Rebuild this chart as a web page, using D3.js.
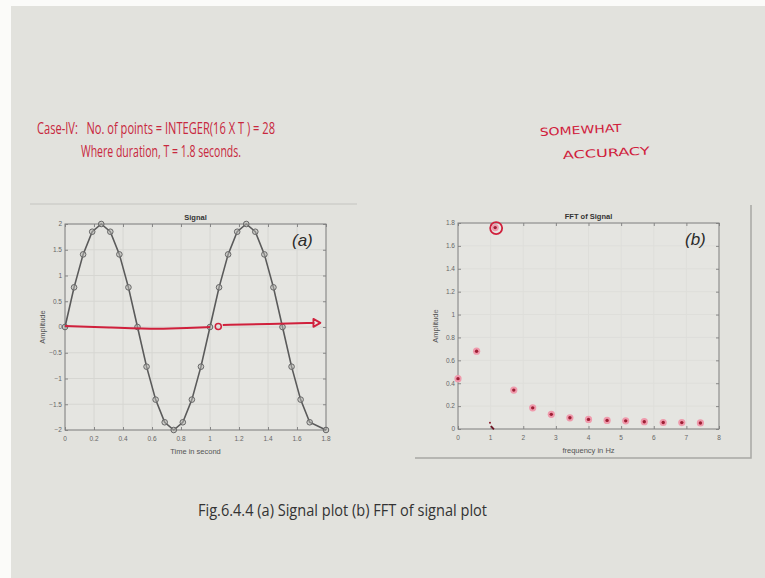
<!DOCTYPE html>
<html>
<head>
<meta charset="utf-8">
<script src="https://cdn.jsdelivr.net/npm/d3@7"></script>
<style>
  html, body { margin: 0; padding: 0; background: #fbfbf9; }
  svg { display: block; }
  .tick-lbl { font-family: "Liberation Sans", Arial, sans-serif; font-size: 6.5px; fill: #666; }
  .ax-lbl   { font-family: "Liberation Sans", Arial, sans-serif; font-size: 7.5px; fill: #555; }
  .ax-title { font-family: "Liberation Sans", Arial, sans-serif; font-size: 7.5px; font-weight: bold; fill: #333; }
  .slide    { font-family: "Liberation Sans Narrow", "Open Sans", sans-serif; white-space: pre; }
</style>
</head>
<body>
<svg id="chart" width="765" height="578"></svg>
<script>
/* ── Data ───────────────────────────────────────────────────────────────── */
// (a) sampled signal
const sigT = [0, 0.0625, 0.125, 0.1875, 0.25, 0.3125, 0.375, 0.4375, 0.5, 0.5625, 0.625, 0.6875, 0.75,
              0.8125, 0.875, 0.9375, 1.0, 1.0625, 1.125, 1.1875, 1.25, 1.3125, 1.375, 1.4375, 1.5,
              1.5625, 1.625, 1.6875, 1.8];
const sigA = [0, 0.77, 1.41, 1.85, 2, 1.85, 1.41, 0.77, 0, -0.77, -1.41, -1.85, -2,
              -1.85, -1.41, -0.77, 0, 0.77, 1.41, 1.85, 2, 1.85, 1.41, 0.77, 0,
              -0.77, -1.41, -1.85, -2];
const sigXTicks = [0, 0.2, 0.4, 0.6, 0.8, 1, 1.2, 1.4, 1.6, 1.8];
const sigYTicks = [-2, -1.5, -1, -0.5, 0, 0.5, 1, 1.5, 2];

// (b) FFT magnitude
const fftF = [0, 0.57, 1.14, 1.71, 2.29, 2.86, 3.43, 4.0, 4.57, 5.14, 5.71, 6.29, 6.86, 7.43];
const fftA = [0.44, 0.68, 1.76, 0.34, 0.185, 0.128, 0.098, 0.084, 0.075, 0.071, 0.064, 0.057, 0.056, 0.053];
const fftXTicks = [0, 1, 2, 3, 4, 5, 6, 7, 8];
const fftYTicks = [0, 0.2, 0.4, 0.6, 0.8, 1, 1.2, 1.4, 1.6, 1.8];

// hand-drawn annotations, in data units
const penLineA1 = [[0, 0.02], [0.3, -0.01], [0.63, -0.045], [0.85, -0.02], [1.0, 0.0]];
const penCircA  = [1.057, 0.01];
const penLineA2 = [[1.088, 0.04], [1.4, 0.06], [1.72, 0.08]];
const penCircB  = [1.17, 1.756];
const penTickB  = [[1.01, 0.026], [1.1, -0.003]];
const penDotB   = [0.98, 0.055];

/* ── Slide ──────────────────────────────────────────────────────────────── */
const svg = d3.select('#chart');
const RED = '#c8283e', PEN = '#d0203c';

svg.append('rect').attr('x', 11).attr('y', 6).attr('width', 754).attr('height', 572).attr('fill', '#e2e2dd');

const hdr = svg.append('g').attr('class', 'slide').attr('fill', RED).attr('font-size', 17);
hdr.append('text').attr('class', 'slide').attr('x', 37).attr('y', 134).attr('textLength', 238).attr('lengthAdjust', 'spacingAndGlyphs')
  .text('Case-IV:   No. of points = INTEGER(16 X T ) = 28');
hdr.append('text').attr('class', 'slide').attr('x', 81).attr('y', 157).attr('textLength', 160).attr('lengthAdjust', 'spacingAndGlyphs')
  .text('Where duration, T = 1.8 seconds.');

const hand = svg.append('g').attr('fill', PEN).attr('font-family', '"DejaVu Sans", sans-serif').attr('font-size', 11);
hand.append('text').attr('x', 540).attr('y', 136).attr('transform', 'rotate(-3 540 136)')
  .attr('textLength', 82).attr('lengthAdjust', 'spacingAndGlyphs').text('SOMEWHAT');
hand.append('text').attr('x', 563).attr('y', 159).attr('transform', 'rotate(-3 563 159)')
  .attr('textLength', 87).attr('lengthAdjust', 'spacingAndGlyphs').text('ACCURACY');

svg.append('text').attr('class', 'slide').attr('x', 198).attr('y', 516).attr('font-size', 17).attr('fill', '#333')
  .attr('textLength', 289).attr('lengthAdjust', 'spacingAndGlyphs').text('Fig.6.4.4 (a) Signal plot (b) FFT of signal plot');

// figure frame lines
svg.append('line').attr('x1', 30).attr('x2', 357).attr('y1', 204).attr('y2', 204).attr('stroke', '#c4c4c0');
svg.append('path').attr('d', 'M415,458H751V205').attr('fill', 'none').attr('stroke', '#a8a8a4').attr('stroke-width', 1.5);

/* ── Axes helper (MATLAB-style box) ─────────────────────────────────────── */
function panel(box, xDom, yDom, xTicks, yTicks, opts) {
  const x = d3.scaleLinear().domain(xDom).range([box.l, box.r]);
  const y = d3.scaleLinear().domain(yDom).range([box.b, box.t]);
  const g = svg.append('g');
  g.append('rect').attr('x', box.l).attr('y', box.t).attr('width', box.r - box.l).attr('height', box.b - box.t).attr('fill', '#e5e5e1');
  if (opts.grid) {
    xTicks.forEach(t => g.append('line').attr('x1', x(t)).attr('x2', x(t)).attr('y1', box.t).attr('y2', box.b).attr('stroke', opts.grid));
    yTicks.forEach(t => g.append('line').attr('x1', box.l).attr('x2', box.r).attr('y1', y(t)).attr('y2', y(t)).attr('stroke', opts.grid));
  }
  const ax = (axis, tr) => g.append('g').attr('transform', tr).call(axis)
    .call(s => { s.select('.domain').remove(); s.selectAll('text').remove(); s.selectAll('line').attr('stroke', '#888'); });
  ax(d3.axisTop(x).tickValues(xTicks).tickSize(3), `translate(0,${box.b})`);
  ax(d3.axisBottom(x).tickValues(xTicks).tickSize(3), `translate(0,${box.t})`);
  ax(d3.axisRight(y).tickValues(yTicks).tickSize(3), `translate(${box.l},0)`);
  ax(d3.axisLeft(y).tickValues(yTicks).tickSize(3), `translate(${box.r},0)`);
  g.append('rect').attr('x', box.l).attr('y', box.t).attr('width', box.r - box.l).attr('height', box.b - box.t)
    .attr('fill', 'none').attr('stroke', '#808080').attr('stroke-width', 1);
  xTicks.forEach(t => g.append('text').attr('class', 'tick-lbl').attr('x', x(t)).attr('y', box.b + 11).attr('text-anchor', 'middle').text(d3.format('~g')(t)));
  yTicks.forEach(t => g.append('text').attr('class', 'tick-lbl').attr('x', box.l - 3).attr('y', y(t) + 2.3).attr('text-anchor', 'end').text(d3.format('~g')(t)));
  g.append('text').attr('class', 'ax-title').attr('x', (box.l + box.r) / 2).attr('y', box.t - 4).attr('text-anchor', 'middle').text(opts.title);
  g.append('text').attr('class', 'ax-lbl').attr('x', (box.l + box.r) / 2).attr('y', box.b + 24).attr('text-anchor', 'middle').text(opts.xLabel);
  g.append('text').attr('class', 'ax-lbl').attr('transform', `translate(${box.l - 20},${(box.t + box.b) / 2}) rotate(-90)`)
    .attr('text-anchor', 'middle').text('Amplitude');
  g.append('text').attr('x', box.r - 34).attr('y', box.t + 22).attr('font-family', '"Liberation Sans", Arial, sans-serif')
    .attr('font-size', 17).attr('font-style', 'italic').attr('fill', '#2a2a2a').text(opts.tag);
  return { x, y, g };
}

/* ── (a) Signal ─────────────────────────────────────────────────────────── */
const A = panel({ l: 65, r: 326, t: 224, b: 430 }, [0, 1.8], [-2, 2], sigXTicks, sigYTicks,
  { title: 'Signal', xLabel: 'Time in second', tag: '(a)', grid: '#d6d6d2' });
const sig = sigT.map((t, i) => [t, sigA[i]]);
A.g.append('path').datum(sig)
  .attr('d', d3.line().x(d => A.x(d[0])).y(d => A.y(d[1])))
  .attr('fill', 'none').attr('stroke', '#5a5a5a').attr('stroke-width', 1.6);
A.g.selectAll('circle.mk').data(sig).join('circle').attr('class', 'mk')
  .attr('cx', d => A.x(d[0])).attr('cy', d => A.y(d[1])).attr('r', 2.8)
  .attr('fill', '#b8b8b4').attr('fill-opacity', 0.5).attr('stroke', '#666').attr('stroke-width', 1);

const penA = d3.line().x(d => A.x(d[0])).y(d => A.y(d[1])).curve(d3.curveBasis);
A.g.append('path').datum(penLineA1).attr('d', penA).attr('fill', 'none').attr('stroke', PEN).attr('stroke-width', 2);
A.g.append('path').datum(penLineA2).attr('d', penA).attr('fill', 'none').attr('stroke', PEN).attr('stroke-width', 2);
A.g.append('circle').attr('cx', A.x(penCircA[0])).attr('cy', A.y(penCircA[1])).attr('r', 3)
  .attr('fill', 'none').attr('stroke', PEN).attr('stroke-width', 1.5);
{
  const ex = A.x(penLineA2[2][0]), ey = A.y(penLineA2[2][1]);
  A.g.append('path').attr('d', `M${ex - 1},${ey - 4}L${ex + 6},${ey}L${ex - 1},${ey + 4}Z`)
    .attr('fill', 'none').attr('stroke', PEN).attr('stroke-width', 1.8).attr('stroke-linejoin', 'round');
}

/* ── (b) FFT ────────────────────────────────────────────────────────────── */
const B = panel({ l: 458, r: 719, t: 223, b: 429 }, [0, 8], [0, 1.8], fftXTicks, fftYTicks,
  { title: 'FFT of Signal', xLabel: 'frequency in Hz', tag: '(b)', grid: '#dededa' });
const fft = fftF.map((f, i) => [f, fftA[i]]);
B.g.selectAll('circle.halo').data(fft).join('circle').attr('class', 'halo')
  .attr('cx', d => B.x(d[0])).attr('cy', d => B.y(d[1])).attr('r', 3.6).attr('fill', '#ef9aac');
B.g.selectAll('circle.core').data(fft).join('circle').attr('class', 'core')
  .attr('cx', d => B.x(d[0])).attr('cy', d => B.y(d[1])).attr('r', 1.7).attr('fill', '#9e1f35');

B.g.append('circle').attr('cx', B.x(penCircB[0])).attr('cy', B.y(penCircB[1])).attr('r', 6)
  .attr('fill', 'none').attr('stroke', PEN).attr('stroke-width', 1.8);
B.g.append('path').datum(penTickB).attr('d', d3.line().x(d => B.x(d[0])).y(d => B.y(d[1])))
  .attr('stroke', '#6a1020').attr('stroke-width', 1.8);
B.g.append('circle').attr('cx', B.x(penDotB[0])).attr('cy', B.y(penDotB[1])).attr('r', 1).attr('fill', '#8a1828');
</script>
</body>
</html>
